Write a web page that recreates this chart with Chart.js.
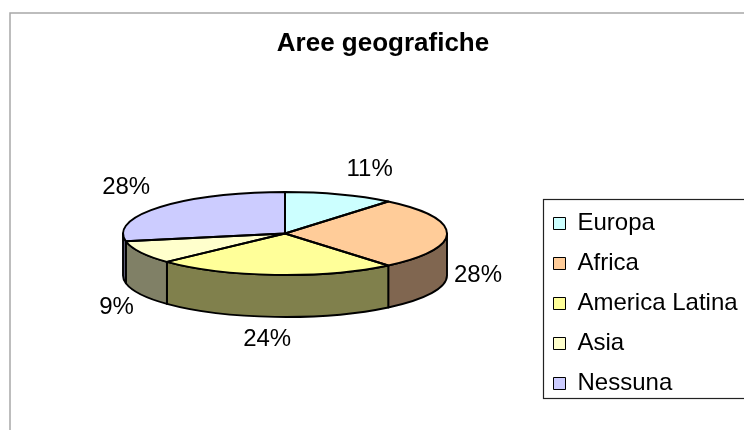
<!DOCTYPE html>
<html><head><meta charset="utf-8">
<script src="https://cdn.jsdelivr.net/npm/chart.js@4/dist/chart.umd.min.js"></script>
<style>html,body{margin:0;padding:0;background:#fff}#wrap{width:744px;height:430px}</style>
</head><body><div id="wrap"><canvas id="c" width="744" height="430"></canvas></div>
<script>
// ---- data ----
const categories = ['Europa', 'Africa', 'America Latina', 'Asia', 'Nessuna'];
const shares = [11, 28, 24, 9, 28];
const topColors = ['#CCFFFF', '#FFCC99', '#FFFF99', '#FFFFCC', '#CCCCFF'];
const sideColors = ['#668080', '#806650', '#80804C', '#808066', '#666680'];
const titleText = 'Aree geografiche';

// ---- presentation (not data) ----
const FONT = '"Liberation Sans", Arial, sans-serif';
const geom = { cx: 285, cy: 233.5, rx: 162, ry: 41.5, depth: 42 };
const labelNudges = [[21, -4], [5, 0], [-6, 1], [-1, 3], [-14, -6]];

Chart.defaults.font.family = FONT;

const pie3d = {
  id: 'pie3d',
  beforeDraw(chart) {
    const ctx = chart.ctx;
    ctx.save();
    ctx.fillStyle = '#fff';
    ctx.fillRect(0, 0, chart.width, chart.height);
    ctx.strokeStyle = '#a8a8a8';
    ctx.lineWidth = 1.5;
    ctx.strokeRect(10, 13, chart.width + 40, chart.height + 40);
    ctx.restore();
  },
  afterLayout(chart) {
    const lg = chart.legend;
    const pad = chart.options.plugins.legend.labels.padding;
    lg.left = 553.5 - pad;
    lg.top = 195.5;
    lg.right = chart.width + 200;
    lg.bottom = chart.height;
    lg.width = lg.right - lg.left;
    lg.height = lg.bottom - lg.top;
  },
  beforeDatasetsDraw(chart) {
    const ctx = chart.ctx;
    const meta = chart.getDatasetMeta(0);
    const { cx, cy, rx, ry, depth } = geom;
    ctx.save();
    ctx.lineWidth = 1.9;
    ctx.strokeStyle = '#000';
    ctx.lineJoin = 'round';
    meta.data.forEach((arc, i) => {
      const p = arc.getProps(['startAngle', 'endAngle'], true);
      const a = Math.max(p.startAngle, 0), b = Math.min(p.endAngle, Math.PI);
      if (b <= a) return;
      ctx.beginPath();
      ctx.ellipse(cx, cy, rx, ry, 0, a, b, false);
      ctx.lineTo(cx + rx * Math.cos(b), cy + depth + ry * Math.sin(b));
      ctx.ellipse(cx, cy + depth, rx, ry, 0, b, a, true);
      ctx.closePath();
      ctx.fillStyle = sideColors[i];
      ctx.fill();
      ctx.stroke();
    });
    ctx.restore();
    const q = meta.data[0].getProps(['x', 'y', 'outerRadius'], true);
    ctx.save();
    ctx.translate(cx, cy);
    ctx.scale(rx / q.outerRadius, ry / q.outerRadius);
    ctx.translate(-q.x, -q.y);
  },
  afterDatasetsDraw(chart) {
    const ctx = chart.ctx;
    ctx.restore();
    const meta = chart.getDatasetMeta(0);
    const { cx, cy, rx, ry, depth } = geom;
    ctx.save();
    ctx.lineWidth = 1.9;
    ctx.strokeStyle = '#000';
    ctx.lineJoin = 'round';
    meta.data.forEach((arc) => {
      const p = arc.getProps(['startAngle', 'endAngle'], true);
      ctx.beginPath();
      ctx.moveTo(cx, cy);
      ctx.ellipse(cx, cy, rx, ry, 0, p.startAngle, p.endAngle, false);
      ctx.closePath();
      ctx.stroke();
    });
    const total = shares.reduce((s, v) => s + v, 0);
    ctx.font = '24px ' + FONT;
    ctx.fillStyle = '#000';
    ctx.textAlign = 'center';
    ctx.textBaseline = 'middle';
    meta.data.forEach((arc, i) => {
      const p = arc.getProps(['startAngle', 'endAngle'], true);
      const m = (p.startAngle + p.endAngle) / 2;
      const c = Math.cos(m), s = Math.sin(m);
      const front = s > -0.02;
      const px = cx + rx * c + c * 26 + labelNudges[i][0];
      const py = cy + ry * s + s * 22 + (front ? depth : 0) + labelNudges[i][1];
      ctx.fillText(Math.round(shares[i] / total * 100) + '%', px, py);
    });
    ctx.restore();
  },
  afterDraw(chart) {
    const ctx = chart.ctx;
    ctx.save();
    ctx.strokeStyle = '#222';
    ctx.lineWidth = 1.2;
    ctx.strokeRect(543.5, 199.5, 400, 199);
    ctx.restore();
  }
};

new Chart(document.getElementById('c'), {
  type: 'pie',
  data: {
    labels: categories,
    datasets: [{
      data: shares,
      backgroundColor: topColors,
      borderWidth: 0,
      hoverOffset: 0,
      clip: false
    }]
  },
  options: {
    responsive: false,
    animation: false,
    events: [],
    layout: { padding: { left: 22, right: 0, top: 0, bottom: 0 } },
    plugins: {
      title: {
        display: true,
        text: titleText,
        color: '#000',
        font: { size: 26, weight: 'bold', family: FONT },
        padding: { top: 28, bottom: 10 }
      },
      legend: {
        position: 'right',
        align: 'start',
        labels: {
          boxWidth: 12,
          boxHeight: 12,
          padding: 16,
          color: '#000',
          font: { size: 24, family: FONT },
          generateLabels(chart) {
            const items = Chart.overrides.doughnut.plugins.legend.labels.generateLabels(chart);
            items.forEach(it => { it.strokeStyle = '#000'; it.lineWidth = 1; });
            return items;
          }
        }
      },
      tooltip: { enabled: false }
    }
  },
  plugins: [pie3d]
});
</script>
</body></html>
